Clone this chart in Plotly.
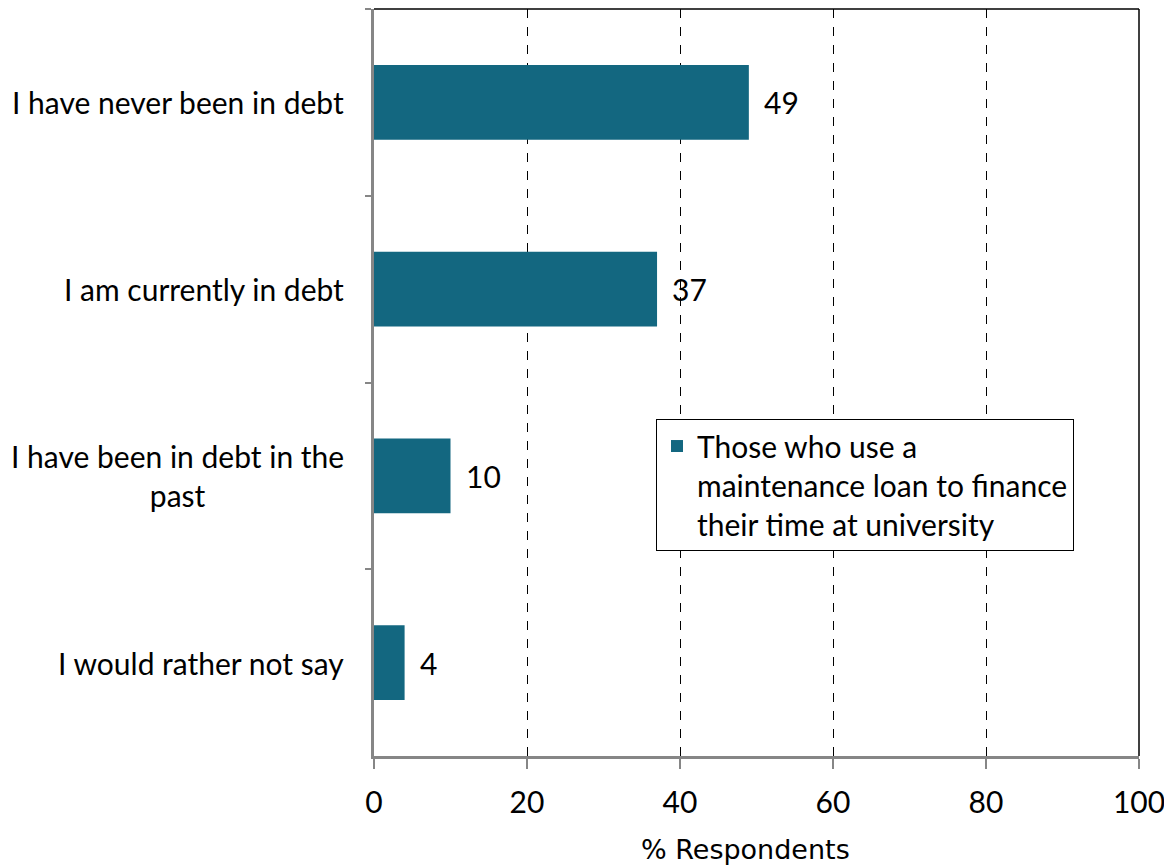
import plotly.graph_objects as go

categories = ["I have never been in debt", "I am currently in debt",
              "I have been in debt in the<br>past", "I would rather not say"]
values = [49, 37, 10, 4]
series_name = "Those who use a<br>maintenance loan to finance<br>their time at university"
x_ticks = [0, 20, 40, 60, 80, 100]
x_title = "% Respondents"

FONT = "Lato"
FS = 30
BAR = "#136780"

fig = go.Figure()
fig.add_trace(go.Bar(
    y=categories, x=values, orientation="h", name=series_name,
    marker=dict(color=BAR, line=dict(width=0)), width=0.4,
))

# value labels
for c, v in zip(categories, values):
    fig.add_annotation(x=v, y=c, xref="x", yref="y", text=str(v), showarrow=False,
                       xanchor="left", xshift=13, font=dict(family=FONT, size=FS, color="black"))
# category labels (centered multi-line)
for c in categories:
    fig.add_annotation(x=0, y=c, xref="paper", yref="y", text=c, showarrow=False,
                       xanchor="right", align="center", xshift=-28,
                       font=dict(family=FONT, size=FS, color="black"))
# x axis title
fig.add_annotation(x=0.486, y=-0.1258, xref="paper", yref="paper", text=x_title,
                   showarrow=False, xanchor="center", yanchor="middle",
                   font=dict(family="DejaVu Sans", size=27, color="black"))

# top and right borders
fig.add_shape(type="line", xref="paper", yref="paper", x0=0, x1=1, y0=1, y1=1,
              line=dict(color="black", width=1.5))
fig.add_shape(type="line", xref="paper", yref="paper", x0=1, x1=1, y0=0, y1=1,
              line=dict(color="black", width=1.5))

fig.update_layout(
    width=1164, height=865,
    margin=dict(l=374, r=25, t=9, b=109),
    plot_bgcolor="white", paper_bgcolor="white",
    showlegend=True,
    legend=dict(x=0.3686, y=0.4511, xanchor="left", yanchor="top",
                bordercolor="black", borderwidth=1, bgcolor="white",
                font=dict(family=FONT, size=FS, color="black"),
                valign="top", itemwidth=30, tracegroupgap=0),
)
fig.update_xaxes(
    range=[0, 100], tickvals=x_ticks, showgrid=True, gridcolor="black", griddash="dash",
    gridwidth=1.3, showline=True, linecolor="#868686", linewidth=2.5, zeroline=False,
    ticks="outside", ticklen=10, tickcolor="#868686", tickwidth=1.5,
    ticklabelstandoff=8, ticklabeloverflow="allow",
    tickfont=dict(family=FONT, size=FS, color="black"),
    automargin=False,
)
fig.update_yaxes(
    categoryorder="array", categoryarray=categories, range=[3.5, -0.5],
    showticklabels=False, showline=True, linecolor="#868686", linewidth=2.5,
    ticks="outside", ticklen=6, tickcolor="#868686", tickwidth=1.5,
    tickson="boundaries", showgrid=False, automargin=False,
)

fig.write_html("out.html", config={"displayModeBar": False},
               post_script="document.body.style.margin='0';")
